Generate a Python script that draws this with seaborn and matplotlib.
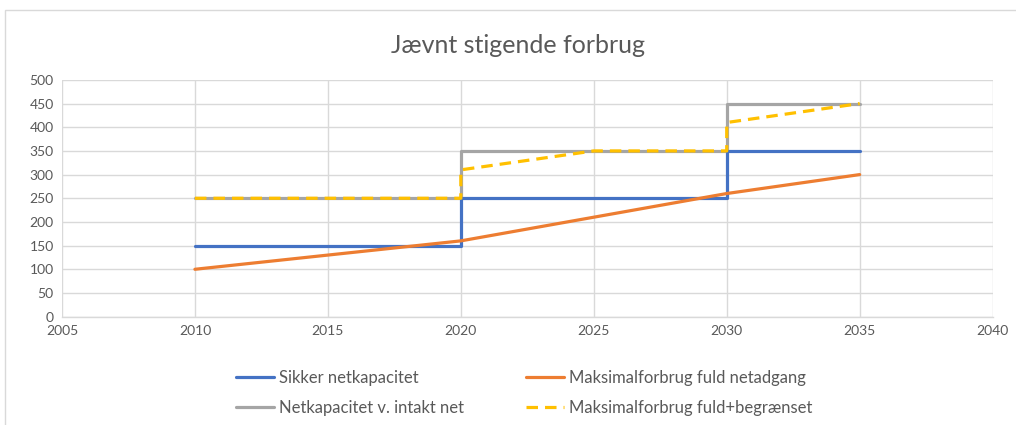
import matplotlib
matplotlib.use("Agg")
import matplotlib.pyplot as plt
import seaborn as sns
import pandas as pd
from matplotlib.patches import Rectangle

# ---- data ----
sikker_x = [2010, 2020, 2020, 2030, 2030, 2035]
sikker_y = [150, 150, 250, 250, 350, 350]

maks_x = [2010, 2015, 2020, 2025, 2030, 2035]
maks_y = [100, 130, 160, 210, 260, 300]

intakt_x = [2010, 2020, 2020, 2030, 2030, 2035]
intakt_y = [250, 250, 350, 350, 450, 450]

begr_x = [2010, 2020, 2020, 2025, 2030, 2030, 2035]
begr_y = [250, 250, 310, 350, 350, 410, 450]

series_names = ["Sikker netkapacitet", "Maksimalforbrug fuld netadgang",
                "Netkapacitet v. intakt net", "Maksimalforbrug fuld+begrænset"]
title = "Jævnt stigende forbrug"
x_ticks = [2005, 2010, 2015, 2020, 2025, 2030, 2035, 2040]
y_ticks = [0, 50, 100, 150, 200, 250, 300, 350, 400, 450, 500]

colors = ["#4472C4", "#ED7D31", "#A5A5A5", "#FFC000"]

sns.set_theme(style="white")
plt.rcParams['font.family'] = ['Lato', 'DejaVu Sans']
text_col = "#595959"

fig = plt.figure(figsize=(10.16, 4.25), dpi=100)
ax = fig.add_axes([0.061, 0.255, 0.916, 0.557])

frames = [
    (sikker_x, sikker_y, series_names[0]),
    (maks_x, maks_y, series_names[1]),
    (intakt_x, intakt_y, series_names[2]),
    (begr_x, begr_y, series_names[3]),
]
handles = []
for i, (xs, ys, name) in enumerate(frames):
    df = pd.DataFrame({"x": xs, "y": ys})
    ls = (0, (3.6, 2.2)) if i == 3 else "-"
    sns.lineplot(data=df, x="x", y="y", sort=False, estimator=None, ax=ax,
                 color=colors[i], linewidth=2.3, linestyle=ls, label=name,
                 legend=False)
    handles.append(ax.lines[-1])

ax.lines[2].set_zorder(2)
ax.lines[0].set_zorder(2.5)
ax.lines[1].set_zorder(2.6)
ax.lines[3].set_zorder(3)

ax.set_xlim(2005, 2040)
ax.set_ylim(0, 500)
ax.set_xticks(x_ticks)
ax.set_yticks(y_ticks)
ax.set_xlabel("")
ax.set_ylabel("")
ax.grid(True, color="#D9D9D9", linewidth=1)
ax.set_axisbelow(True)
for s in ["top", "right", "left"]:
    ax.spines[s].set_visible(False)
ax.spines["bottom"].set_color("#D9D9D9")
ax.spines["bottom"].set_linewidth(1)
ax.tick_params(axis="both", length=0, labelsize=10, colors=text_col, pad=6)

fig.text(0.510, 0.894, title, ha="center", va="center", fontsize=18,
         color=text_col)

# legend filled column-wise: reorder so rows read like the reference
order = [0, 2, 1, 3]
fig.legend(handles=[handles[i] for i in order],
           labels=[series_names[i] for i in order], loc="center",
           bbox_to_anchor=(0.516, 0.076), ncol=2, frameon=False,
           fontsize=12, labelcolor=text_col, handlelength=2.3,
           handletextpad=0.3, columnspacing=3.7, labelspacing=0.85)

fig.patches.append(Rectangle((0.005, -0.01), 1.2, 1 - 10/425 + 0.01,
                             transform=fig.transFigure, fill=False,
                             edgecolor="#D9D9D9", linewidth=1))

fig.savefig("out.png", dpi=100, facecolor="white")
